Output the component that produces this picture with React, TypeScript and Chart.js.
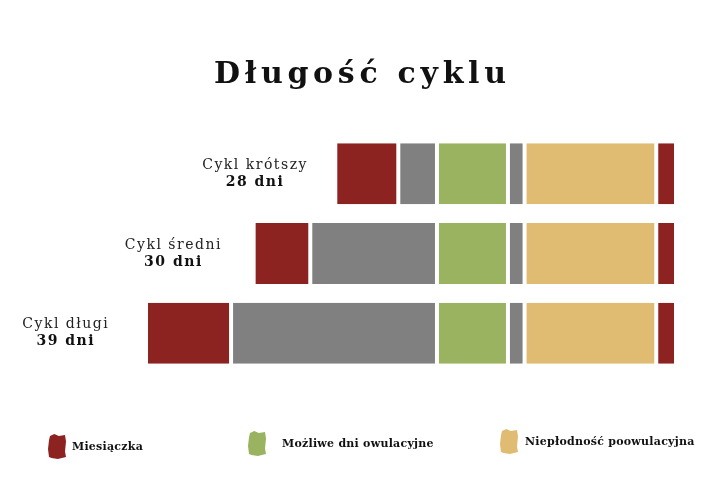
import React, { useEffect, useRef } from "react";
import { Chart, registerables } from "chart.js";

Chart.register(...registerables);

const TITLE = "Długość cyklu";
const CATEGORIES = ["Cykl krótszy", "Cykl średni", "Cykl długi"];
const CATEGORY_DAYS = ["28 dni", "30 dni", "39 dni"];

// segment lengths, stacked from the right end of each bar towards the left
const END_MENSTRUATION = [1.46, 1.46, 1.46];
const POST_OVULATORY = [9.74, 9.74, 9.74];
const GRAY_AFTER = [1.23, 1.23, 1.23];
const OVULATORY = [5.25, 5.25, 5.25];
const GRAY_BEFORE = [2.86, 9.37, 15.23];
const MENSTRUATION = [4.66, 4.19, 6.29];

const LEGEND_LABELS = ["Miesiączka", "Możliwe dni owulacyjne", "Niepłodność poowulacyjna"];

const RED = "#8C2320";
const GRAY = "#808080";
const GREEN = "#9AB361";
const YELLOW = "#E0BC72";
const LEGEND_COLORS = [RED, GREEN, YELLOW];
const LEGEND_POS = [
  { box: 48, text: 72, y: 450 },
  { box: 248, text: 282, y: 447 },
  { box: 500, text: 525, y: 445 },
];

const SERIF = '"DejaVu Serif", "Liberation Serif", serif';

function brush(ctx: CanvasRenderingContext2D, x: number, y: number, w: number, h: number, color: string) {
  ctx.fillStyle = color;
  ctx.beginPath();
  ctx.moveTo(x + 2, y + 2);
  ctx.lineTo(x + w * 0.35, y);
  ctx.lineTo(x + w * 0.6, y + 2);
  ctx.lineTo(x + w - 1, y + 1);
  ctx.lineTo(x + w, y + h * 0.3);
  ctx.lineTo(x + w - 1, y + h * 0.7);
  ctx.lineTo(x + w, y + h - 2);
  ctx.lineTo(x + w * 0.55, y + h);
  ctx.lineTo(x + w * 0.2, y + h - 1);
  ctx.lineTo(x + 1, y + h - 2);
  ctx.lineTo(x, y + h * 0.6);
  ctx.lineTo(x + 1, y + h * 0.25);
  ctx.closePath();
  ctx.fill();
}

const overlayPlugin = {
  id: "overlay",
  afterDraw(chart: any) {
    const ctx: CanvasRenderingContext2D = chart.ctx;
    ctx.save();
    ctx.fillStyle = "#111";
    ctx.textBaseline = "alphabetic";
    ctx.textAlign = "center";
    // title
    (ctx as any).letterSpacing = "4.7px";
    ctx.font = `bold 30px ${SERIF}`;
    ctx.fillText(TITLE, chart.width / 2 + 2.35, 83);

    // row labels next to the left end of each bar
    const meta = chart.getDatasetMeta(chart.data.datasets.length - 1);
    meta.data.forEach((el: any, i: number) => {
      const left = Math.min(el.x, el.base) + 2;
      const cx = left - 83;
      ctx.fillStyle = "#222";
      (ctx as any).letterSpacing = "1.5px";
      ctx.font = `14px ${SERIF}`;
      ctx.fillText(CATEGORIES[i], cx + 0.75, el.y - 5);
      ctx.font = `bold 14px ${SERIF}`;
      ctx.fillStyle = "#111";
      ctx.fillText(CATEGORY_DAYS[i], cx + 0.75, el.y + 12);
    });

    // legend
    ctx.textAlign = "left";
    (ctx as any).letterSpacing = "0.25px";
    ctx.font = `bold 11px ${SERIF}`;
    LEGEND_LABELS.forEach((label, i) => {
      const p = LEGEND_POS[i];
      brush(ctx, p.box, p.y - 16, 18, 25, LEGEND_COLORS[i]);
      ctx.fillStyle = "#111";
      ctx.fillText(label, p.text, p.y);
    });
    ctx.restore();
  },
};

export default function App() {
  const ref = useRef<HTMLCanvasElement>(null);
  useEffect(() => {
    if (!ref.current) return;
    const seg = (label: string, data: number[], color: string) => ({
      label,
      data,
      backgroundColor: color,
      borderColor: "#ffffff",
      borderWidth: { left: 2, right: 2, top: 0, bottom: 0 },
      borderSkipped: false,
      borderRadius: { topLeft: 2, topRight: 2, bottomLeft: 2, bottomRight: 2 },
      barPercentage: 0.766,
      categoryPercentage: 1,
    });
    const chart = new Chart(ref.current, {
      type: "bar",
      data: {
        labels: CATEGORIES,
        datasets: [
          seg("Miesiączka (koniec)", END_MENSTRUATION, RED),
          seg("Niepłodność poowulacyjna", POST_OVULATORY, YELLOW),
          seg("", GRAY_AFTER, GRAY),
          seg("Możliwe dni owulacyjne", OVULATORY, GREEN),
          seg("", GRAY_BEFORE, GRAY),
          seg("Miesiączka", MENSTRUATION, RED),
        ],
      },
      options: {
        indexAxis: "y",
        responsive: false,
        animation: false,
        devicePixelRatio: 1,
        layout: { padding: { top: 134, bottom: 126, left: 0, right: 44 } },
        scales: {
          x: { type: "linear", stacked: true, reverse: true, min: 0, max: 50, display: false },
          y: { type: "category", stacked: true, display: false, offset: true },
        },
        plugins: {
          legend: { display: false },
          title: { display: false },
          tooltip: { enabled: false },
        },
      },
      plugins: [overlayPlugin],
    } as any);
    return () => chart.destroy();
  }, []);
  return (
    <div style={{ position: "fixed", left: 0, top: 0, width: 720, height: 499, background: "#fff" }}>
      <canvas ref={ref} width={720} height={499} style={{ display: "block" }} />
    </div>
  );
}
